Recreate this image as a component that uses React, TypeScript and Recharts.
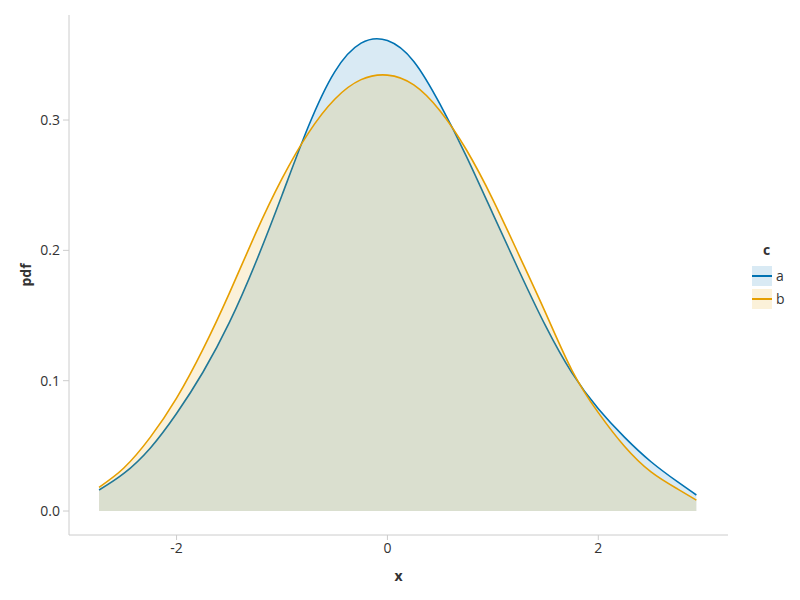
import { AreaChart, Area, XAxis, YAxis, Label } from "recharts";

// x grid
const xs = [-2.735, -2.5, -2.25, -2, -1.75, -1.5, -1.25, -1, -0.75, -0.5, -0.25, 0, 0.25, 0.5, 0.75, 1, 1.25, 1.5, 1.75, 2, 2.25, 2.5, 2.75, 2.93];
const pdfA = [0.0161, 0.0288, 0.0482, 0.0748, 0.1065, 0.1445, 0.1905, 0.2423, 0.295, 0.337, 0.359, 0.361, 0.345, 0.312, 0.272, 0.228, 0.184, 0.142, 0.106, 0.0785, 0.0565, 0.0378, 0.0225, 0.0123];
const pdfB = [0.0182, 0.033, 0.0565, 0.0866, 0.124, 0.167, 0.213, 0.255, 0.29, 0.316, 0.331, 0.3345, 0.327, 0.307, 0.277, 0.239, 0.196, 0.152, 0.108, 0.0755, 0.0495, 0.03, 0.017, 0.0084];
const xTicks = [-2, 0, 2];
const yTicks = [0, 0.1, 0.2, 0.3];
const seriesNames = ["a", "b"];
const seriesColors = ["#0072B2", "#E69F00"];

const data = xs.map((x, i) => ({ x, a: pdfA[i], b: pdfB[i] }));

const FONT = "'Open Sans', sans-serif";
const AXIS = "#cccccc";

function LegendBox() {
  return (
    <div style={{ position: "absolute", left: 752, top: 240, fontFamily: FONT, color: "#333" }}>
      <div style={{ fontWeight: 700, fontSize: 14, marginLeft: 11, marginBottom: 5 }}>c</div>
      {seriesNames.map((n, i) => (
        <div key={n} style={{ display: "flex", alignItems: "center", height: 23 }}>
          <svg width={20} height={20}>
            <rect x={0} y={0} width={20} height={20} fill={seriesColors[i]} fillOpacity={0.15} />
            <line x1={0} x2={20} y1={10} y2={10} stroke={seriesColors[i]} strokeWidth={2} />
          </svg>
          <span style={{ fontSize: 14, marginLeft: 4 }}>{n}</span>
        </div>
      ))}
    </div>
  );
}

export default function App() {
  return (
    <div style={{ position: "relative", margin: -8, width: 800, height: 600, background: "#fff" }}>
      <AreaChart width={800} height={600} data={data} margin={{ top: 15, right: 72, left: 0, bottom: 0 }}>
        <XAxis
          type="number"
          dataKey="x"
          domain={[-3.02, 3.23]}
          ticks={xTicks}
          height={65}
          stroke={AXIS}
          tickSize={5}
          tick={{ fontSize: 14, fill: "#333", fontFamily: FONT }}
          tickMargin={3}
        >
          <Label
            content={({ viewBox }: any) => (
              <text x={viewBox.x + viewBox.width / 2} y={581} textAnchor="middle" fontFamily={FONT} fontSize={14} fontWeight={700} fill="#333">
                x
              </text>
            )}
          />
        </XAxis>
        <YAxis
          type="number"
          domain={[-0.0184, 0.3806]}
          ticks={yTicks}
          width={69}
          stroke={AXIS}
          tickSize={6}
          tick={{ fontSize: 14, fill: "#333", fontFamily: FONT }}
          tickFormatter={(v: number) => v.toFixed(1)}
          tickMargin={3}
        >
          <Label
            content={({ viewBox }: any) => {
              const cy = viewBox.y + viewBox.height / 2;
              return (
                <text x={31} y={cy} transform={`rotate(-90 31 ${cy})`} textAnchor="middle" fontFamily={FONT} fontSize={14} fontWeight={700} fill="#333">
                  pdf
                </text>
              );
            }}
          />
        </YAxis>
        {seriesNames.map((n, i) => (
          <Area
            key={n}
            type="natural"
            dataKey={n}
            name={n}
            stroke={seriesColors[i]}
            strokeWidth={1.6}
            fill={seriesColors[i]}
            fillOpacity={0.15}
            baseValue={0}
            isAnimationActive={false}
          />
        ))}
      </AreaChart>
      <LegendBox />
    </div>
  );
}
